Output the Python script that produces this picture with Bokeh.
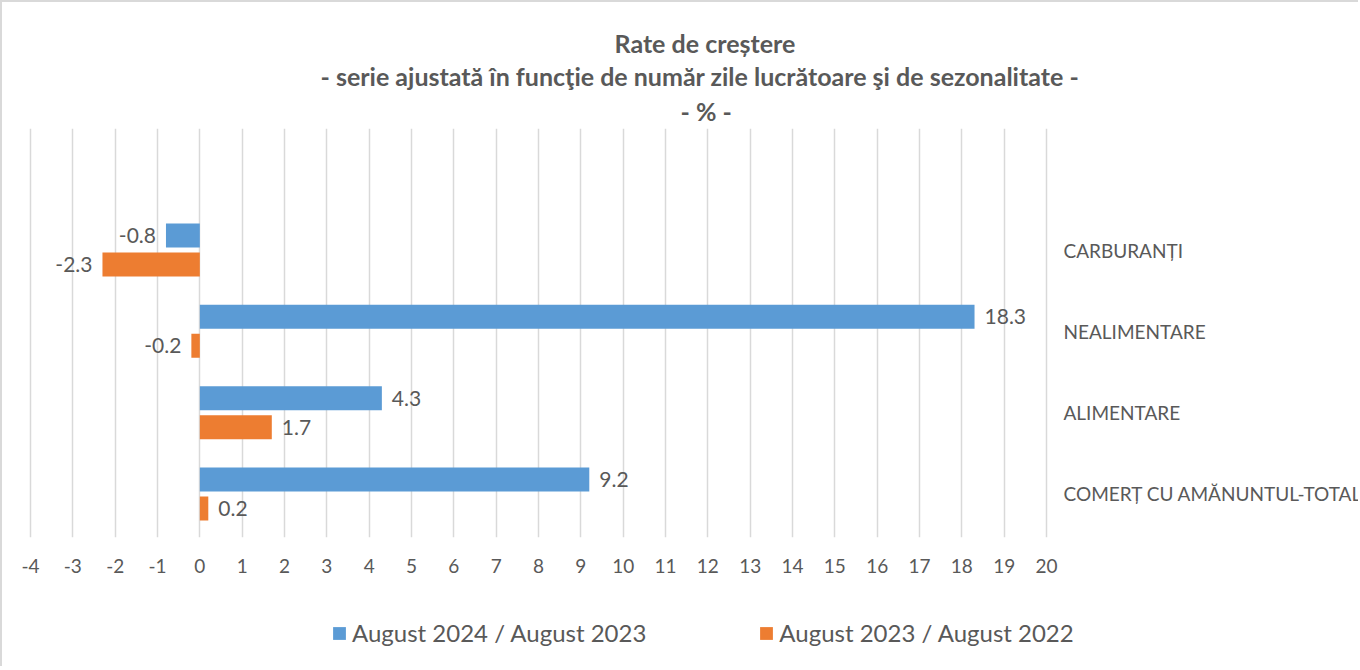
from bokeh.plotting import figure
from bokeh.layouts import column
from bokeh.models import (ColumnDataSource, FixedTicker, Title, Legend, LegendItem, Range1d)
from bokeh.core.properties import value
from bokeh.embed import file_html
from bokeh.resources import INLINE

# ---------------- data ----------------
categories = ["CARBURANȚI", "NEALIMENTARE", "ALIMENTARE", "COMERȚ CU AMĂNUNTUL-TOTAL"]
series_names = ["August 2024 / August 2023", "August 2023 / August 2022"]
values_2024 = [-0.8, 18.3, 4.3, 9.2]
values_2023 = [-2.3, -0.2, 1.7, 0.2]
x_ticks = [-4, -3, -2, -1, 0, 1, 2, 3, 4, 5, 6, 7, 8, 9, 10, 11, 12, 13, 14, 15, 16, 17, 18, 19, 20]
title_lines = ["Rate de creștere",
               "- serie ajustată în funcţie de număr zile lucrătoare şi de sezonalitate -",
               "- % -"]

FONT = "Lato"
TXT = "#595959"
BLUE = "#5B9BD5"
ORANGE = "#ED7D31"

n = len(categories)
pos = [n - 1 - i for i in range(n)]
OFF = 0.178
BAR_H = 0.295

def make_source(vals, shift):
    return ColumnDataSource(dict(
        y=[p + shift for p in pos],
        v=vals,
        lbl=[f"{v:.1f}" for v in vals],
        align=["left" if v >= 0 else "right" for v in vals],
        xo=[10 if v >= 0 else -10 for v in vals],
    ))

src_a = make_source(values_2024, OFF)
src_b = make_source(values_2023, -OFF)
src_cat = ColumnDataSource(dict(y=pos, name=categories,
                                x=[x_ticks[-1]] * n))

W = 1356
PX_PER_UNIT = 1016 / 24.0
PAD_L = 4  # px of frame left of the "-4" gridline so it is not clipped
X_START = x_ticks[0] - PAD_L / PX_PER_UNIT
# frame runs to the right edge of the chart; category names sit to the
# right of the last ("20") gridline
X_END = X_START + (W - (28 - PAD_L)) / PX_PER_UNIT
p = figure(width=W, height=598, output_backend="svg", toolbar_location=None,
           title=None, x_range=Range1d(X_START, X_END),
           y_range=Range1d(-0.535, 4.494),
           min_border_left=28 - PAD_L, min_border_right=0, min_border_top=126,
           min_border_bottom=63, background_fill_color="white",
           border_fill_color="white")
p.outline_line_color = None
p.yaxis.visible = False

# titles (added from closest-to-plot outward)
title_offsets = [584 + PAD_L, 290 + PAD_L, 650 + PAD_L]
title_standoffs = [1, 1, 5]
for t, off, so in reversed(list(zip(title_lines, title_offsets, title_standoffs))):
    p.add_layout(Title(text=t, align="left", offset=off, text_font=FONT,
                       text_font_size="25px", text_font_style="bold",
                       text_color=TXT, standoff=so), "above")

# grid
p.ygrid.grid_line_color = None
p.xgrid.grid_line_color = "#D9D9D9"
p.xgrid.grid_line_width = 1.5
p.xgrid.ticker = FixedTicker(ticks=x_ticks)
p.xgrid.bounds = (x_ticks[0], x_ticks[-1])

# x axis
p.xaxis.ticker = FixedTicker(ticks=x_ticks)
p.xaxis.major_label_overrides = {t: str(t) for t in x_ticks}
p.xaxis.axis_line_color = None
p.xaxis.major_tick_line_color = None
p.xaxis.minor_tick_line_color = None
p.xaxis.major_label_text_font = FONT
p.xaxis.major_label_text_font_size = "19px"
p.xaxis.major_label_text_color = TXT
p.xaxis.major_label_standoff = 15

# bars
ra = p.hbar(y="y", right="v", left=0, height=BAR_H, source=src_a,
            fill_color=BLUE, line_color=None)
rb = p.hbar(y="y", right="v", left=0, height=BAR_H, source=src_b,
            fill_color=ORANGE, line_color=None)

# data labels
for s in (src_a, src_b):
    p.text(x="v", y="y", text="lbl", source=s, text_align="align",
           x_offset="xo", text_baseline="middle", text_font=value(FONT),
           text_font_size="21px", text_color=TXT)

# category names
p.text(x="x", y="y", text="name", source=src_cat, x_offset=17,
       text_align="left", text_baseline="middle", text_font=value(FONT),
       text_font_size="19px", text_color=TXT)

# ---- legend strip below the chart (same series, drawn out of view) ----
p2 = figure(width=W, height=66, output_backend="svg", toolbar_location=None,
            title=None, x_range=Range1d(0, 1), y_range=Range1d(100, 101),
            min_border=0, background_fill_color="white", border_fill_color="white")
p2.outline_line_color = None
p2.axis.visible = False
p2.grid.visible = False
la = p2.hbar(y="y", right="v", left=0, height=BAR_H, source=src_a,
             fill_color=BLUE, line_color=None)
lb = p2.hbar(y="y", right="v", left=0, height=BAR_H, source=src_b,
             fill_color=ORANGE, line_color=None)
legend = Legend(items=[LegendItem(label=series_names[0], renderers=[la]),
                       LegendItem(label=series_names[1], renderers=[lb])],
                orientation="horizontal", location=(305, 19),
                label_text_font=FONT, label_text_font_size="24px",
                label_text_color=TXT, glyph_width=16, glyph_height=16,
                label_standoff=5, spacing=112, padding=0, margin=0,
                border_line_color=None, background_fill_alpha=0)
p2.add_layout(legend, "center")

lay = column(p, p2, spacing=0)
lay.styles = {"border-top": "2px solid #d9d9d9", "border-left": "2px solid #d9d9d9"}

open("out.html", "w").write(file_html(lay, INLINE))
